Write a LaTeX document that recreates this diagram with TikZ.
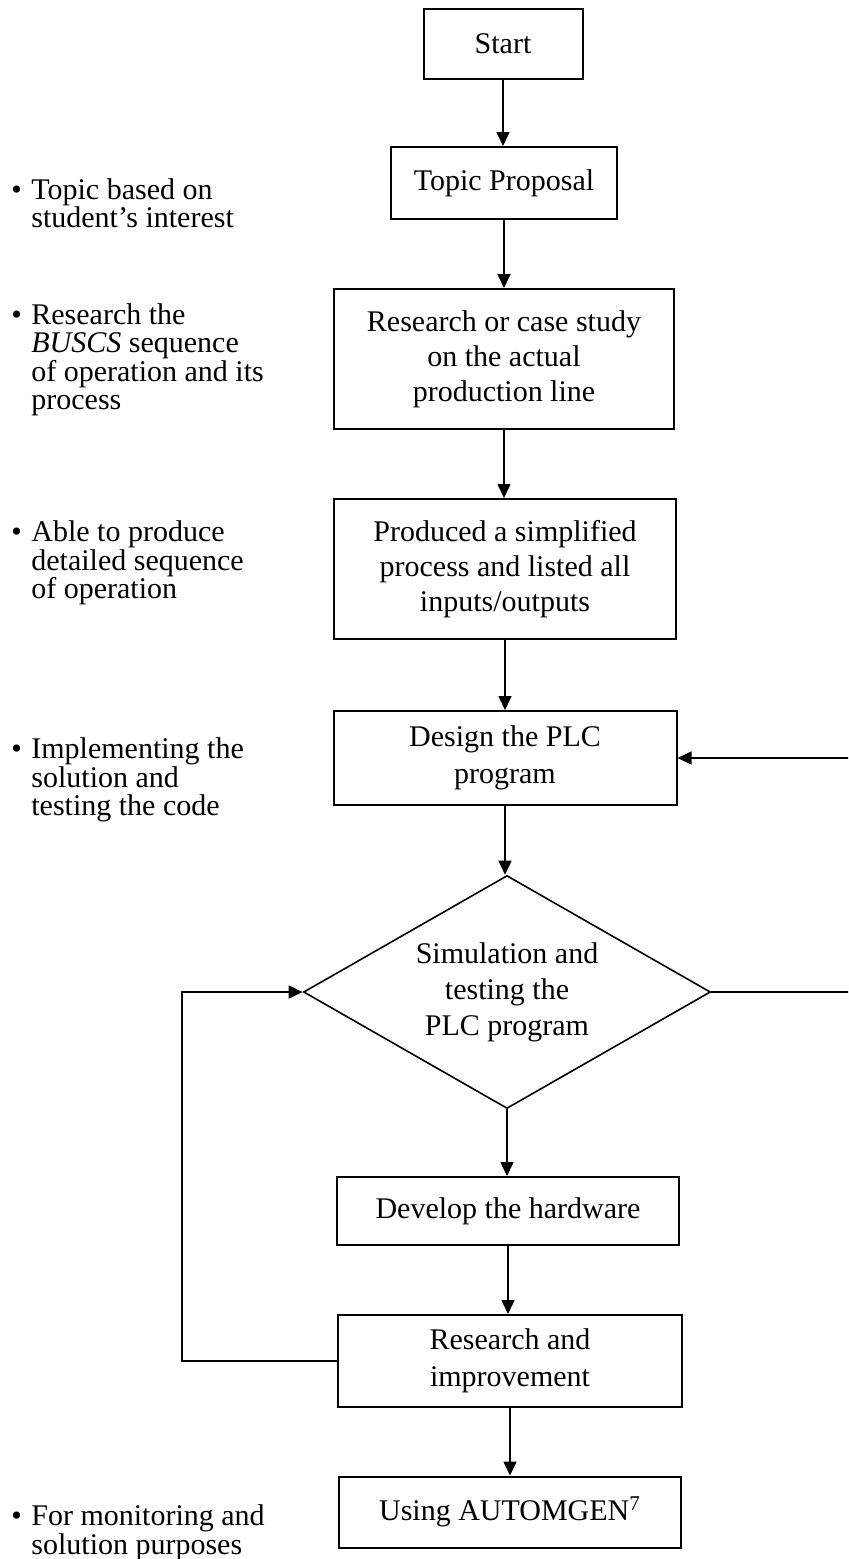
\documentclass[tikz,border=0pt]{standalone}
\usepackage{fontspec}
\setmainfont{Liberation Serif}
\usetikzlibrary{arrows.meta,shapes.geometric}
\newcommand{\notebullet}{\makebox[10pt][l]{\textbullet}}
\newcommand{\noteindent}{\hspace*{10pt}}

\begin{document}
\begin{tikzpicture}[x=0.5pt, y=-0.5pt,
	box/.style = {draw, line width=1pt, align=center, inner sep=0pt, font=\fontsize{15pt}{17.5pt}\selectfont},
	widebox/.style = {box, font=\fontsize{15pt}{18.5pt}\selectfont},
	decision/.style = {draw, diamond, aspect=1.75, line width=0.8pt, align=center, inner sep=0pt, font=\fontsize{15pt}{18pt}\selectfont},
	note/.style = {anchor=west, align=left, inner sep=0pt, font=\fontsize{15pt}{14.25pt}\selectfont},
	flow/.style = {line width=0.8pt, -{Triangle[length=7pt,width=6.5pt]}}]
		\useasboundingbox (0,0) rectangle (848,1559);
		\clip (0,0) rectangle (848,1559);

		% main column
		\node [box, minimum width=79.5pt, minimum height=35pt] (start) at (503,44) {Start};
		\node [box, minimum width=113pt, minimum height=36pt] (topic) at (504,183) {Topic Proposal};
		\node [box, minimum width=170pt, minimum height=70pt] (research) at (504,359) {Research or case study\\on the actual\\production line};
		\node [box, minimum width=171pt, minimum height=70pt] (produced) at (505,569) {Produced a simplified\\process and listed all\\inputs/outputs};
		\node [widebox, minimum width=171.5pt, minimum height=47pt] (design) at (505,758) {Design the PLC\\program};
		\node [decision, minimum width=203.5pt, minimum height=116.5pt] (sim) at (507,992) {Simulation and\\testing the\\PLC program};
		\node [box, minimum width=171pt, minimum height=34pt] (develop) at (508,1211) {Develop the hardware};
		\node [widebox, minimum width=172pt, minimum height=46pt] (improve) at (510,1361) {Research and\\improvement};
		\node [box, minimum width=171pt, minimum height=35.5pt] (automgen) at (510,1512) {Using AUTOMGEN\textsuperscript{7}};

		% notes on the left
		\node [note] (notetopic) at (11,203) {\notebullet Topic based on\\\noteindent student's interest};
		\node [note] (noteresearch) at (11,360) {\notebullet Research the\\\noteindent \textit{BUSCS} sequence\\\noteindent of operation and its\\\noteindent process};
		\node [note] (noteproduce) at (11,563) {\notebullet Able to produce\\\noteindent detailed sequence\\\noteindent of operation};
		\node [note] (noteimplement) at (11,780) {\notebullet Implementing the\\\noteindent solution and\\\noteindent testing the code};
		\node [note] (notemonitor) at (11,1533) {\notebullet For monitoring and\\\noteindent solution purposes};

		% connectors
		\draw [flow] (start.south) -- (start.south |- topic.north);
		\draw [flow] (topic.south) -- (topic.south |- research.north);
		\draw [flow] (research.south) -- (research.south |- produced.north);
		\draw [flow] (produced.south) -- (produced.south |- design.north);
		\draw [flow] (design.south) -- (design.south |- sim.north);
		\draw [flow] (sim.south) -- (sim.south |- develop.north);
		\draw [flow] (develop.south) -- (develop.south |- improve.north);
		\draw [flow] (improve.south) -- (improve.south |- automgen.north);
		\draw [flow] (sim.east) -- ++(150,0) |- (design.east);
		\draw [flow] (improve.west) -- ++(-155,0) |- (sim.west);
	\end{tikzpicture}
\end{document}
